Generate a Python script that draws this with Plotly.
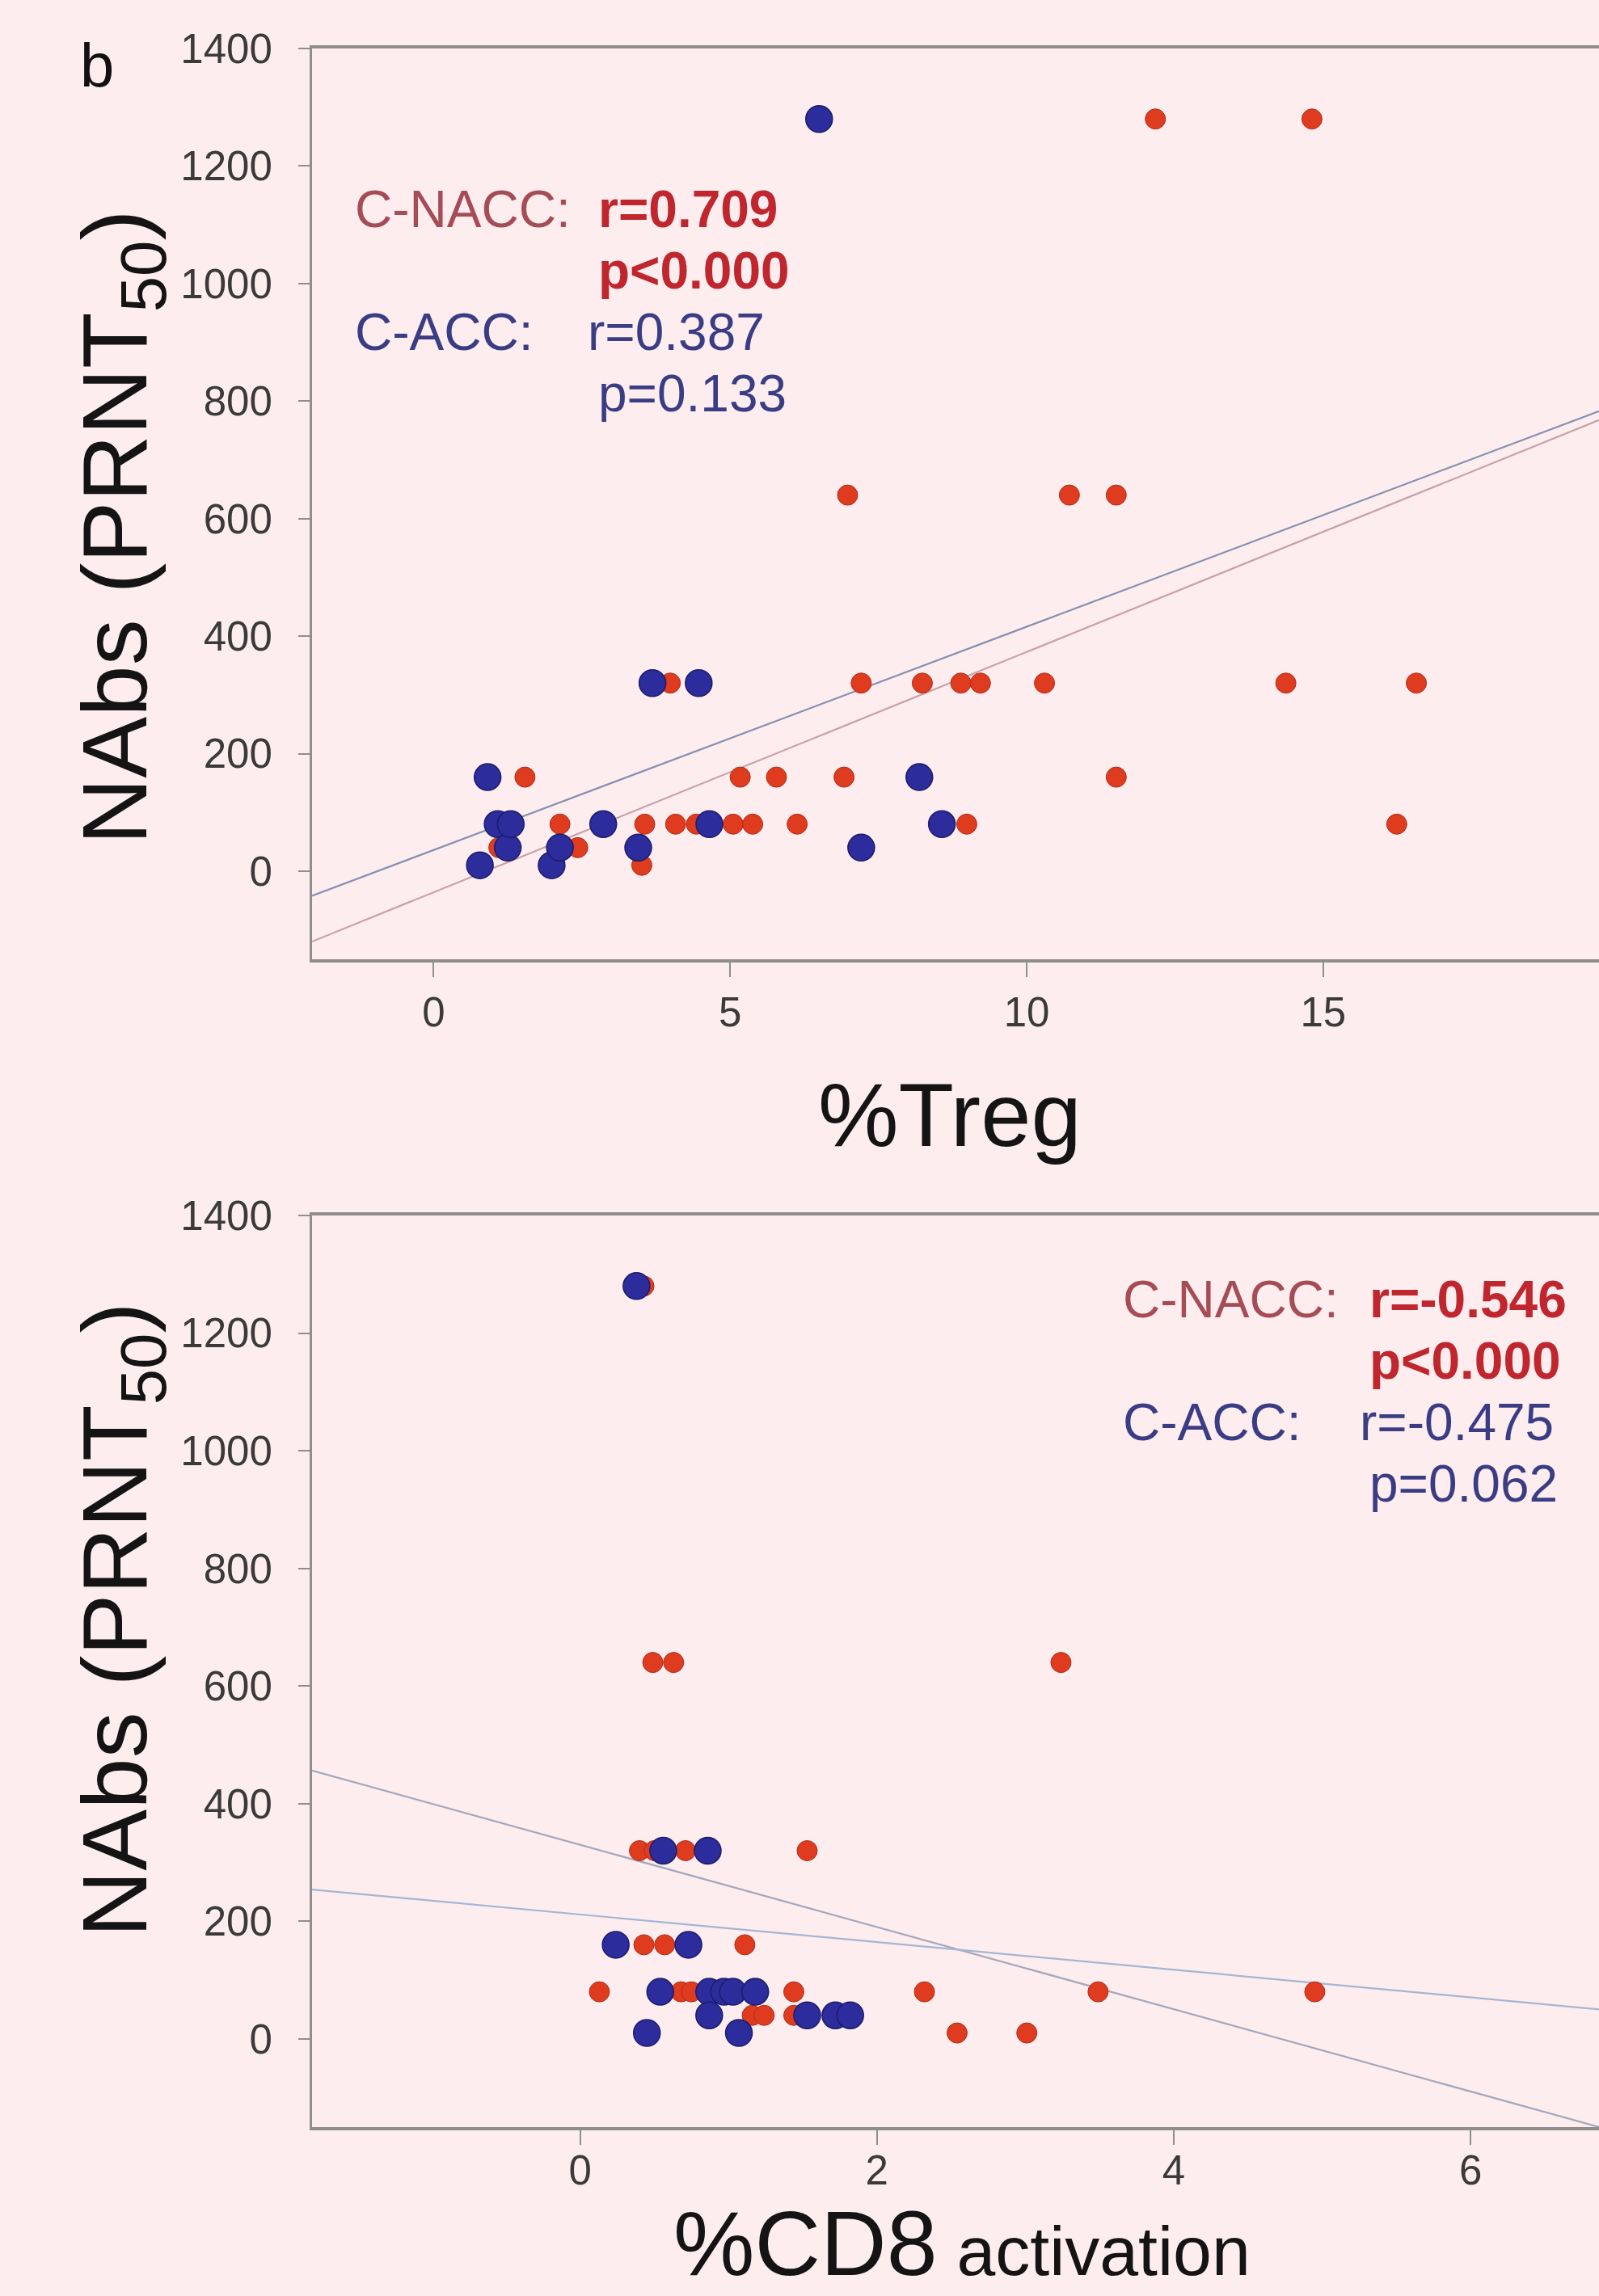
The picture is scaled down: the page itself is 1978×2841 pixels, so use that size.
import plotly.graph_objects as go

# ---------------- data ----------------
# Panel 1: NAbs vs %Treg
treg_nacc_x = [1.54, 2.13, 2.43, 3.51, 3.56, 3.99, 4.08, 4.43, 4.70, 5.05, 5.17, 5.38, 5.78, 6.13, 6.92, 6.98,
               7.21, 8.24, 8.89, 8.99, 9.22, 10.30, 10.72, 11.51, 11.51, 12.17, 14.37, 14.81, 16.24, 16.57, 1.10]
treg_nacc_y = [160, 80, 40, 10, 80, 320, 80, 80, 80, 80, 160, 80, 160, 80, 160, 640,
               320, 320, 320, 80, 320, 320, 640, 640, 160, 1280, 320, 1280, 80, 320, 40]
treg_acc_x = [0.78, 0.91, 1.08, 1.25, 1.30, 1.99, 2.13, 2.86, 3.45, 3.69, 4.47, 4.65, 6.50, 7.21, 8.19, 8.57]
treg_acc_y = [10, 160, 80, 40, 80, 10, 40, 80, 40, 320, 320, 80, 1280, 40, 160, 80]
# regression lines [C-NACC, C-ACC]
treg_fit_slope = [40.9, 38.0]
treg_fit_intercept = [-36.0, 36.0]

# Panel 2: NAbs vs %CD8 activation
cd8_nacc_x = [0.43, 0.49, 0.63, 3.24, 0.40, 0.50, 0.71, 1.53, 0.43, 0.57, 1.11, 0.13, 0.68, 0.75, 1.44,
              2.32, 3.49, 4.95, 1.16, 1.24, 1.44, 2.54, 3.01]
cd8_nacc_y = [1280, 640, 640, 640, 320, 320, 320, 320, 160, 160, 160, 80, 80, 80, 80,
              80, 80, 80, 40, 40, 40, 10, 10]
cd8_acc_x = [0.38, 0.56, 0.86, 0.24, 0.73, 0.54, 0.87, 0.97, 1.03, 1.18, 0.87, 1.53, 1.72, 1.82, 0.45, 1.07]
cd8_acc_y = [1280, 320, 320, 160, 160, 80, 80, 80, 80, 80, 40, 40, 40, 40, 10, 10]
cd8_fit_slope = [-69.9, -23.5]
cd8_fit_intercept = [330.0, 211.5]

y_ticks = [0, 200, 400, 600, 800, 1000, 1200, 1400]
treg_ticks = [0, 5, 10, 15, 20]
cd8_ticks = [0, 2, 4, 6]

stats_treg = [("C-NACC:", "<b>r=0.709</b>", "<b>p&lt;0.000</b>"), ("C-ACC:", "r=0.387", "p=0.133")]
stats_cd8 = [("C-NACC:", "<b>r=-0.546</b>", "<b>p&lt;0.000</b>"), ("C-ACC:", "r=-0.475", "p=0.062")]

# ---------------- styling ----------------
W, H = 1978, 2841
BG = "#fdedef"
RED = "#de3b1f"
RED_EDGE = "#b02e1c"
BLUE = "#2c2c9c"
BLUE_EDGE = "#1c1c6a"
FONT = "Liberation Sans, Arial, sans-serif"

def fx(p):
    return p / W

def fy(p):
    return 1 - p / H

X_LEFT = 386
treg_range = [-2.05, 19.65]
cd8_range = [-1.806, 6.865]
y_range = [-150, 1400]

fig = go.Figure()

# fit lines
line_cols_top = ["#c9a0a8", "#8690b0"]
for s, b, c in zip(treg_fit_slope, treg_fit_intercept, line_cols_top):
    xs = treg_range
    fig.add_trace(go.Scatter(x=xs, y=[s * v + b for v in xs], mode="lines",
                             line=dict(color=c, width=2.2), xaxis="x", yaxis="y",
                             showlegend=False, hoverinfo="skip"))
line_cols_bot = ["#a3a8ba", "#a4b6d2"]
for s, b, c in zip(cd8_fit_slope, cd8_fit_intercept, line_cols_bot):
    xs = cd8_range
    fig.add_trace(go.Scatter(x=xs, y=[s * v + b for v in xs], mode="lines",
                             line=dict(color=c, width=2.2), xaxis="x2", yaxis="y2",
                             showlegend=False, hoverinfo="skip"))

# markers
red_m = dict(size=25, color=RED, line=dict(color=RED_EDGE, width=1))
blue_m = dict(size=33, color=BLUE, line=dict(color=BLUE_EDGE, width=1.5))
fig.add_trace(go.Scatter(x=treg_nacc_x, y=treg_nacc_y, mode="markers", marker=red_m,
                         xaxis="x", yaxis="y", name="C-NACC", showlegend=False))
fig.add_trace(go.Scatter(x=treg_acc_x, y=treg_acc_y, mode="markers", marker=blue_m,
                         xaxis="x", yaxis="y", name="C-ACC", showlegend=False))
fig.add_trace(go.Scatter(x=cd8_nacc_x, y=cd8_nacc_y, mode="markers", marker=red_m,
                         xaxis="x2", yaxis="y2", name="C-NACC", showlegend=False))
fig.add_trace(go.Scatter(x=cd8_acc_x, y=cd8_acc_y, mode="markers", marker=blue_m,
                         xaxis="x2", yaxis="y2", name="C-ACC", showlegend=False))

AX_COL = "#8e8e8e"
TICK_FONT = dict(family=FONT, size=51, color="#3a3a3a")

def xax(rng, ticks, dom_anchor, standoff):
    return dict(domain=[fx(X_LEFT), 1], range=rng, tickvals=ticks, ticks="outside",
                ticklen=18, tickwidth=2, tickcolor=AX_COL, showline=True, linecolor=AX_COL,
                linewidth=3.5, mirror=True, showgrid=False, zeroline=False,
                tickfont=TICK_FONT, anchor=dom_anchor, ticklabelstandoff=standoff,
                automargin=False)

def yax(dom, anchor):
    return dict(domain=dom, range=y_range, tickvals=y_ticks, ticks="outside", ticklen=14,
                tickwidth=2, tickcolor=AX_COL, showline=True, linecolor=AX_COL, linewidth=3,
                showgrid=False, zeroline=False, tickfont=TICK_FONT, anchor=anchor,
                ticklabelstandoff=22, automargin=False)

annotations = []
# panel letter
annotations.append(dict(text="b", x=fx(120), y=fy(80), xref="paper", yref="paper",
                        showarrow=False, font=dict(family=FONT, size=76, color="#111111"),
                        xanchor="center", yanchor="middle"))
# axis titles
ytitle = "NAbs (PRNT<sub>50</sub>)"
for cy in (653, 2005):
    annotations.append(dict(text=ytitle, x=fx(150), y=fy(cy), xref="paper", yref="paper",
                            textangle=-90, showarrow=False,
                            font=dict(family=FONT, size=114, color="#141414"),
                            xanchor="center", yanchor="middle"))
annotations.append(dict(text="%Treg", x=fx(1175), y=fy(1380), xref="paper", yref="paper",
                        showarrow=False, font=dict(family=FONT, size=112, color="#141414"),
                        xanchor="center", yanchor="middle"))
annotations.append(dict(text="%CD8<span style='font-size:86px'> activation</span>",
                        x=fx(1190), y=0, xref="paper", yref="paper", showarrow=False,
                        font=dict(family=FONT, size=113, color="#141414"),
                        xanchor="center", yanchor="bottom"))

# statistics text
LBL_RED = "#a64c55"
VAL_RED = "#c0262d"
NAVY = "#3a3d84"
SF = 64

def stat_block(stats, x_lbl, x_r, x_p, y0, x_r2, dy=76):
    (l1, r1, p1), (l2, r2, p2) = stats
    items = [
        (l1, x_lbl, y0, LBL_RED),
        (r1, x_r, y0, VAL_RED),
        (p1, x_p, y0 + dy, VAL_RED),
        (l2, x_lbl, y0 + 2 * dy, NAVY),
        (r2, x_r2, y0 + 2 * dy, NAVY),
        (p2, x_p, y0 + 3 * dy, NAVY),
    ]
    for t, x, y, c in items:
        annotations.append(dict(text=t, x=fx(x), y=fy(y), xref="paper", yref="paper",
                                showarrow=False, xanchor="left", yanchor="middle",
                                font=dict(family=FONT, size=SF, color=c)))

stat_block(stats_treg, 437, 738, 738, 259, 725)
stat_block(stats_cd8, 1387, 1692, 1692, 1608, 1680)

fig.update_layout(
    width=W, height=H,
    margin=dict(l=0, r=0, t=0, b=0, pad=0, autoexpand=False),
    paper_bgcolor=BG, plot_bgcolor=BG,
    showlegend=False,
    xaxis=xax(treg_range, treg_ticks, "y", 0),
    yaxis=yax([fy(1187), fy(60)], "x"),
    xaxis2=xax(cd8_range, cd8_ticks, "y2", -12),
    yaxis2=yax([fy(2632), fy(1504)], "x2"),
    annotations=annotations,
)

fig.write_html("out.html", config={"displayModeBar": False},
               post_script="document.body.style.margin='0';document.body.style.background='%s';" % BG)
